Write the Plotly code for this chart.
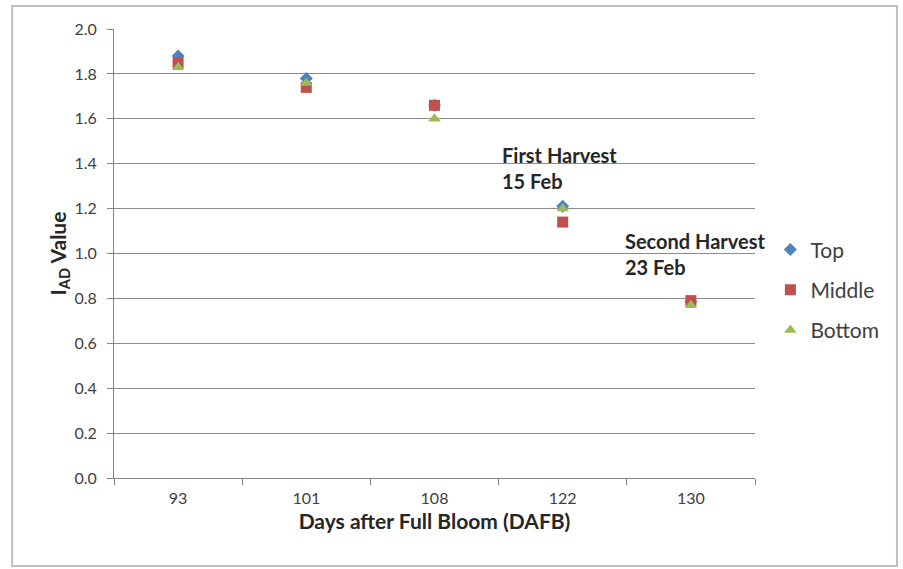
import plotly.graph_objects as go

categories = ["93", "101", "108", "122", "130"]
top_vals = [1.88, 1.78, 1.66, 1.21, 0.785]
middle_vals = [1.85, 1.74, 1.66, 1.14, 0.79]
bottom_vals = [1.83, 1.76, 1.60, 1.20, 0.77]
series_names = ["Top", "Middle", "Bottom"]
colors = ["#4F81BD", "#C0504D", "#9BBB59"]
symbols = ["diamond", "square", "triangle-up"]
y_ticks = [0.0, 0.2, 0.4, 0.6, 0.8, 1.0, 1.2, 1.4, 1.6, 1.8, 2.0]

FONT = "Lato"
fig = go.Figure()
for i, (name, vals) in enumerate(zip(series_names, [top_vals, middle_vals, bottom_vals])):
    fig.add_trace(go.Scatter(
        x=categories, y=vals, mode="markers", name=name,
        legendgroup=name,
        marker=dict(symbol=symbols[i], color=colors[i], size=[10, 11, 11][i],
                    line=dict(width=0)),
    ))

fig.update_layout(
    width=903, height=569,
    margin=dict(l=114, r=148, t=29, b=91),
    paper_bgcolor="white", plot_bgcolor="white",
    font=dict(family=FONT, color="#404040", size=16),
    showlegend=True,
    legend=dict(x=1.024, y=0.554, xanchor="left", yanchor="top",
                traceorder="grouped", tracegroupgap=10, itemwidth=30,
                font=dict(size=21, family=FONT, color="#404040"),
                bgcolor="rgba(0,0,0,0)"),
    xaxis=dict(type="category", range=[-0.5, 4.5], showgrid=False,
               showline=True, linecolor="#868686", linewidth=1,
               ticks="outside", tickson="boundaries", ticklen=6, tickcolor="#868686",
               tickfont=dict(size=16, color="#404040"),
               ticklabelstandoff=6,
               title=dict(text="<b>Days after Full Bloom (DAFB)</b>",
                          font=dict(size=21, color="#262626"), standoff=8)),
    yaxis=dict(range=[0, 2.0], tickvals=y_ticks, tickformat=".1f",
               showgrid=True, gridcolor="#8c8c8c", gridwidth=1,
               showline=True, linecolor="#868686", linewidth=1,
               ticks="outside", ticklen=6, tickcolor="#868686",
               tickfont=dict(size=16, color="#404040"),
               ticklabelstandoff=7, zeroline=False,
               title=dict(text="<b>I<sub>AD</sub> Value</b>",
                          font=dict(size=21, color="#262626"), standoff=2)),
)

fig.add_annotation(x=2.51, y=1.38, xref="x", yref="y",
                   text="<b>First Harvest<br>15 Feb</b>", showarrow=False,
                   xanchor="left", yanchor="middle", align="left",
                   font=dict(size=20, family=FONT, color="#262626"))
fig.add_annotation(x=3.47, y=1.0, xref="x", yref="y",
                   text="<b>Second Harvest<br>23 Feb</b>", showarrow=False,
                   xanchor="left", yanchor="middle", align="left",
                   font=dict(size=20, family=FONT, color="#262626"))

fig.add_shape(type="rect", xref="paper", yref="paper",
              x0=-0.159, x1=1.2215, y0=-0.196, y1=1.0512,
              line=dict(color="#bfbfbf", width=2), layer="below")

fig.write_html("out.html")
